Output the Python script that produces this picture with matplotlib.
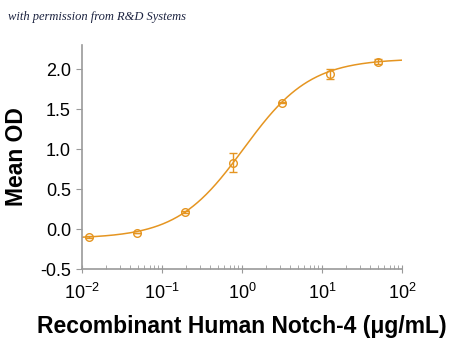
import numpy as np
import matplotlib
matplotlib.use("Agg")
import matplotlib.pyplot as plt
from matplotlib.ticker import LogLocator, FixedLocator, NullFormatter

# Notch-4 concentrations (µg/mL), 4-fold serial dilution, and mean OD readings
conc = [0.0122, 0.0488, 0.195, 0.781, 3.125, 12.5, 50.0]
mean_od = [-0.10, -0.05, 0.21, 0.83, 1.58, 1.94, 2.09]
od_err = [0.01, 0.0, 0.01, 0.115, 0.01, 0.06, 0.03]

# four-parameter logistic fit parameters
fit_bottom, fit_top, fit_ec50, fit_hill = -0.12, 2.13, 1.05, 1.04

x_ticks = [1e-2, 1e-1, 1e0, 1e1, 1e2]
x_tick_labels = [r"$\mathregular{10^{-2}}$", r"$\mathregular{10^{-1}}$", r"$\mathregular{10^{0}}$",
                 r"$\mathregular{10^{1}}$", r"$\mathregular{10^{2}}$"]
y_ticks = [-0.5, 0.0, 0.5, 1.0, 1.5, 2.0]

orange = "#E59521"
gray = "#9a9a9a"

plt.rcParams["font.family"] = ["Liberation Sans", "DejaVu Sans"]

fig = plt.figure(figsize=(4.5, 3.41), dpi=100)
ax = fig.add_axes([82 / 450, 1 - 269 / 341, 320 / 450, 224 / 341])

xs = np.logspace(-2, 2, 400)
curve = fit_bottom + (fit_top - fit_bottom) / (1 + (fit_ec50 / xs) ** fit_hill)
ax.plot(xs, curve, color=orange, lw=1.1, zorder=2)

ax.errorbar(conc, mean_od, yerr=od_err, fmt="o", ms=5.5, mfc="none", mec=orange,
            mew=1.0, ecolor=orange, elinewidth=1.0, capsize=3, capthick=1.0, zorder=3)

ax.set_xscale("log")
ax.set_xlim(1e-2, 1e2)
ax.set_ylim(-0.5, 2.3)

ax.xaxis.set_major_locator(FixedLocator(x_ticks))
ax.set_xticklabels(x_tick_labels)
ax.xaxis.set_minor_locator(LogLocator(base=10, subs=np.arange(2, 10)))
ax.xaxis.set_minor_formatter(NullFormatter())
ax.set_yticks(y_ticks)
ax.set_yticklabels([f"{v:.1f}" for v in y_ticks])

for side in ("top", "right"):
    ax.spines[side].set_visible(False)
for side in ("left", "bottom"):
    ax.spines[side].set_color(gray)
    ax.spines[side].set_linewidth(1.2)

ax.tick_params(axis="x", which="major", direction="inout", length=6, color=gray,
               labelsize=13, pad=7)
ax.tick_params(axis="x", which="minor", direction="in", length=3, color=gray)
ax.tick_params(axis="y", which="major", direction="out", length=4, color=gray,
               labelsize=13, pad=4)

ax.set_ylabel("Mean OD", fontsize=16.5, fontweight="bold", labelpad=9)
ax.set_xlabel("Recombinant Human Notch-4 (\u03bcg/mL)", fontsize=16.5, fontweight="bold",
              labelpad=9)

fig.text(8 / 450, 1 - 17 / 341, "with permission from R&D Systems", fontsize=9,
         family=["Liberation Serif", "DejaVu Serif"], style="italic",
         color="#1c2340", va="center", ha="left")

fig.savefig("out.png", dpi=100)
